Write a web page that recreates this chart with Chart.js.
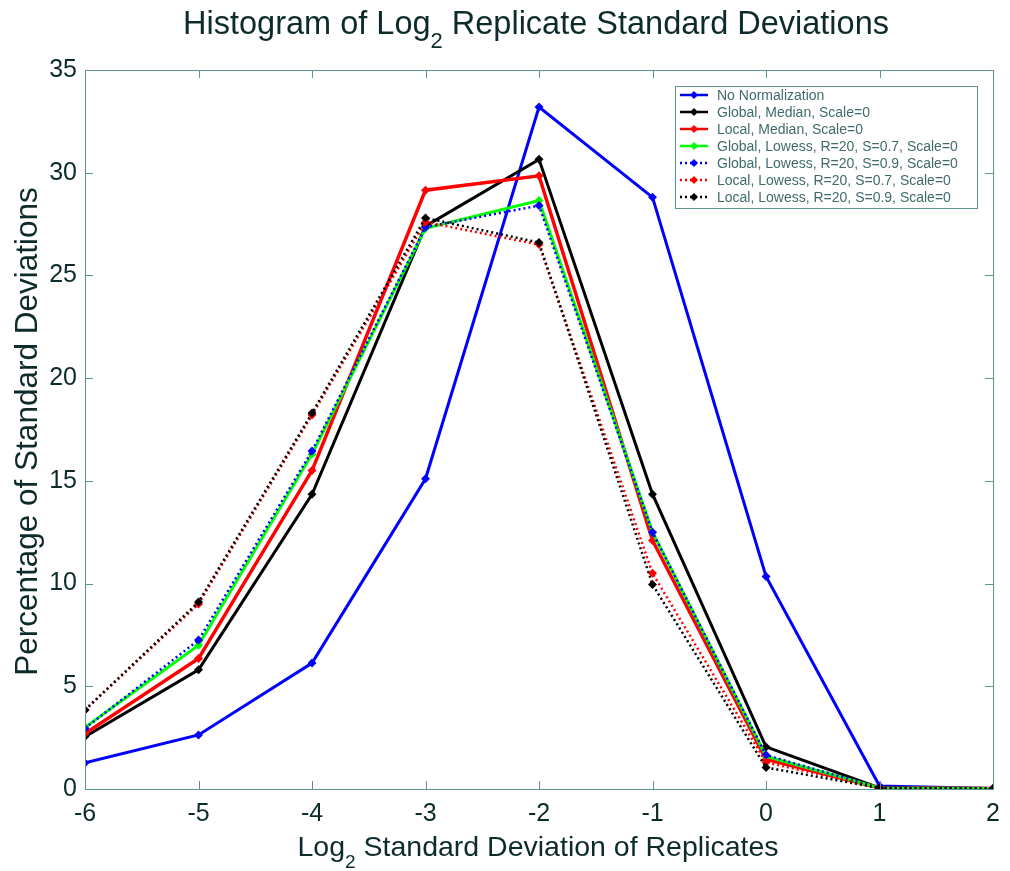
<!DOCTYPE html>
<html>
<head>
<meta charset="utf-8">
<script src="https://cdn.jsdelivr.net/npm/chart.js@4.4.1/dist/chart.umd.min.js"></script>
<style>
html, body { margin: 0; padding: 0; background: #fff; }
</style>
</head>
<body>
<canvas id="histChart" width="1010" height="871"></canvas>
<script>
// log2 SD bins (x) and percentage of SDs per normalization
var xBins = [-6, -5, -4, -3, -2, -1, 0, 1, 2];
var noNorm        = [1.27, 2.63, 6.13, 15.1, 33.2, 28.8, 10.35, 0.15, 0.02];
var globalMedian  = [2.55, 5.8, 14.35, 27.4, 30.65, 14.35, 2.05, 0.05, 0.02];
var localMedian   = [2.7, 6.35, 15.5, 29.15, 29.85, 12.1, 1.45, 0.05, 0.02];
var globalLow07   = [3.0, 7.0, 16.3, 27.3, 28.65, 12.5, 1.6, 0.05, 0.02];
var globalLow09   = [2.95, 7.25, 16.45, 27.35, 28.4, 12.5, 1.65, 0.05, 0.02];
var localLow07    = [3.85, 9.0, 18.2, 27.6, 26.5, 10.5, 1.3, 0.05, 0.02];
var localLow09    = [3.85, 9.1, 18.3, 27.8, 26.6, 9.95, 1.05, 0.05, 0.02];
var yTicks = [0, 5, 10, 15, 20, 25, 30, 35];

// 제목 텍스트 (가운데 조각은 아래첨자 2)
var titleText  = ['Histogram of Log', '2', ' Replicate Standard Deviations'];
var xTitleText = ['Log', '2', ' Standard Deviation of Replicates'];
var yTitleText = ['Percentage of Standard Deviations'];

var FONT = "'Liberation Sans', Arial, sans-serif";
var TEXT = '#0d2b2b';
var FRAME = '#5f9390';

function pts(arr) {
    return arr.map(function (v, i) { return { x: xBins[i], y: v }; });
}

function series(label, arr, color, width, dash, order) {
    return {
        label: label,
        data: pts(arr),
        borderColor: color,
        backgroundColor: color,
        borderWidth: width,
        borderDash: dash,
        pointStyle: 'rectRot',
        pointRadius: 4.5,
        pointBorderWidth: 0,
        tension: 0,
        order: order
    };
}

// 아래첨자 포함 텍스트 (가운데 정렬)
function richText(c, parts, cx, baseY, size, angle) {
    var subSize = Math.round(size * 0.68);
    c.save();
    c.translate(cx, baseY);
    c.rotate(angle);
    c.fillStyle = TEXT;
    c.textBaseline = 'alphabetic';
    var widths = parts.map(function (p, i) {
        c.font = (i % 2 ? subSize : size) + 'px ' + FONT;
        return c.measureText(p).width;
    });
    var total = widths.reduce(function (a, b) { return a + b; }, 0);
    var x = -total / 2;
    parts.forEach(function (p, i) {
        c.font = (i % 2 ? subSize : size) + 'px ' + FONT;
        c.fillText(p, x, i % 2 ? size * 0.42 : 0);
        x += widths[i];
    });
    c.restore();
}

var titlePlugin = {
    id: 'titles',
    afterDraw: function (chart) {
        var c = chart.ctx, a = chart.chartArea;
        var midX = (a.left + a.right) / 2, midY = (a.top + a.bottom) / 2;
        richText(c, titleText, midX - 3, 34, 32.5, 0);
        richText(c, xTitleText, midX - 1, 856, 28.5, 0);
        richText(c, yTitleText, 37, midY + 2, 31.5, -Math.PI / 2);
    }
};

// 축 박스 + 안쪽 눈금 (matlab 스타일)
var framePlugin = {
    id: 'frame',
    afterDatasetsDraw: function (chart) {
        var c = chart.ctx, a = chart.chartArea;
        var xs = chart.scales.x, ys = chart.scales.y;
        c.save();
        c.strokeStyle = FRAME;
        c.lineWidth = 1;
        c.strokeRect(a.left + 0.5, a.top + 0.5, a.right - a.left, a.bottom - a.top);
        c.beginPath();
        xBins.forEach(function (v) {
            var px = Math.round(xs.getPixelForValue(v)) + 0.5;
            c.moveTo(px, a.bottom); c.lineTo(px, a.bottom - 8);
            c.moveTo(px, a.top); c.lineTo(px, a.top + 8);
        });
        yTicks.forEach(function (v) {
            var py = Math.round(ys.getPixelForValue(v)) + 0.5;
            c.moveTo(a.left, py); c.lineTo(a.left + 8, py);
            c.moveTo(a.right, py); c.lineTo(a.right - 8, py);
        });
        c.stroke();
        c.restore();
    }
};

// 범례 박스 (차트 영역 안쪽 오른쪽 위)
var legendPlugin = {
    id: 'boxLegend',
    afterDraw: function (chart) {
        var c = chart.ctx;
        var sets = chart.data.datasets;
        var left = 675, top = 86, w = 302, h = 122, row = 17;
        c.save();
        c.fillStyle = '#fff';
        c.fillRect(left, top, w, h);
        c.strokeStyle = FRAME;
        c.lineWidth = 1;
        c.strokeRect(left + 0.5, top + 0.5, w, h);
        c.font = '14px ' + FONT;
        c.textBaseline = 'middle';
        sets.forEach(function (ds, i) {
            var y = top + 9 + i * row;
            c.strokeStyle = ds.borderColor;
            c.lineWidth = 2.5;
            c.setLineDash(ds.borderDash || []);
            c.beginPath();
            c.moveTo(left + 5, y); c.lineTo(left + 33, y);
            c.stroke();
            c.setLineDash([]);
            c.fillStyle = ds.borderColor;
            c.beginPath();
            c.moveTo(left + 19, y - 4); c.lineTo(left + 23, y);
            c.lineTo(left + 19, y + 4); c.lineTo(left + 15, y);
            c.closePath(); c.fill();
            c.fillStyle = '#3f6b6a';
            c.fillText(ds.label, left + 42, y + 1);
        });
        c.restore();
    }
};

var ctx = document.getElementById('histChart').getContext('2d');
var chart = new Chart(ctx, {
    type: 'line',
    data: {
        datasets: [
            series('No Normalization', noNorm, '#0000ff', 3, [], 6),
            series('Global, Median, Scale=0', globalMedian, '#000000', 3, [], 5),
            series('Local, Median, Scale=0', localMedian, '#ff0000', 3.5, [], 4),
            series('Global, Lowess, R=20, S=0.7, Scale=0', globalLow07, '#00ff00', 3, [], 3),
            series('Global, Lowess, R=20, S=0.9, Scale=0', globalLow09, '#0000ff', 2.5, [2, 3], 2),
            series('Local, Lowess, R=20, S=0.7, Scale=0', localLow07, '#ff0000', 2.5, [2, 3], 1),
            series('Local, Lowess, R=20, S=0.9, Scale=0', localLow09, '#000000', 2.5, [2, 3], 0)
        ]
    },
    options: {
        responsive: false,
        animation: false,
        layout: { padding: { top: 70, right: 12 } },
        plugins: {
            legend: { display: false },
            tooltip: { enabled: false },
            title: { display: false }
        },
        scales: {
            x: {
                type: 'linear',
                min: -6,
                max: 2,
                grid: { display: false, drawTicks: false },
                border: { display: false },
                ticks: {
                    stepSize: 1, maxRotation: 0, padding: 10, color: TEXT,
                    font: { family: FONT, size: 25 }
                },
                afterFit: function (s) { s.height = 82; }
            },
            y: {
                min: 0,
                max: 35,
                grid: { display: false, drawTicks: false },
                border: { display: false },
                ticks: {
                    stepSize: 5, padding: 8, color: TEXT,
                    font: { family: FONT, size: 25 }
                },
                afterFit: function (s) { s.width = 85; }
            }
        }
    },
    plugins: [framePlugin, legendPlugin, titlePlugin]
});
</script>
</body>
</html>
